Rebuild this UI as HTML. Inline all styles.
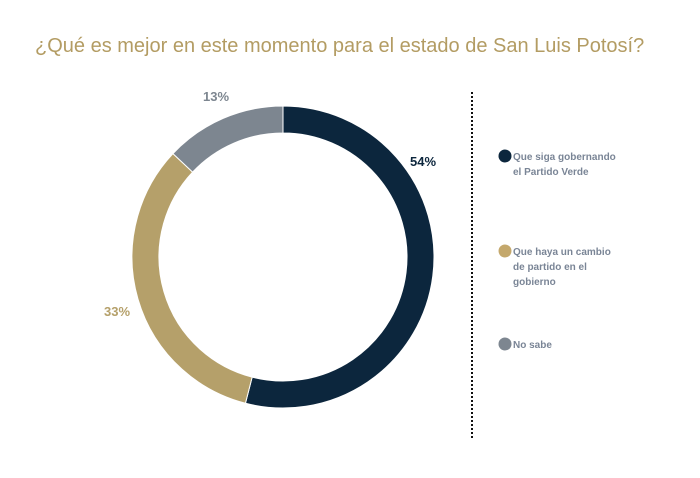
<!DOCTYPE html><html><head><style>body{margin:0;background:#fff;width:700px;height:473px;overflow:hidden;font-family:"Liberation Sans",sans-serif}</style></head><body>
<svg width="700" height="473" xmlns="http://www.w3.org/2000/svg">
<text x="35" y="52" font-size="20" fill="#b39c63" font-family="Liberation Sans,sans-serif">¿Qué es mejor en este momento para el estado de San Luis Potosí?</text>
<path d="M283,106 A151,151 0 1 1 245.45,403.26 L252.16,377.1 A124,124 0 1 0 283,133 Z" fill="#0c263d" stroke="#fff" stroke-width="1"/>
<path d="M245.45,403.26 A151,151 0 0 1 172.92,153.64 L192.6,172.1 A124,124 0 0 0 252.16,377.1 Z" fill="#b5a06a" stroke="#fff" stroke-width="1"/>
<path d="M172.92,153.64 A151,151 0 0 1 283,106 L283,133 A124,124 0 0 0 192.6,172.1 Z" fill="#7d8690" stroke="#fff" stroke-width="1"/>
<g font-size="13" font-weight="bold" font-family="Liberation Sans,sans-serif">
<text x="203" y="101" fill="#7d8690">13%</text>
<text x="410" y="166" fill="#0c263d">54%</text>
<text x="104" y="316" fill="#b5a06a">33%</text>
</g>
<line x1="472" y1="92" x2="472" y2="440" stroke="#111" stroke-width="2" stroke-dasharray="2,2"/>
<g font-size="10" font-weight="bold" fill="#7a8596" font-family="Liberation Sans,sans-serif">
<circle cx="505" cy="156" r="6.5" fill="#0c263d"/>
<text x="513" y="160">Que siga gobernando</text><text x="513" y="175">el Partido Verde</text>
<circle cx="505" cy="251" r="6.5" fill="#c4a86c"/>
<text x="513" y="255">Que haya un cambio</text><text x="513" y="270">de partido en el</text><text x="513" y="285">gobierno</text>
<circle cx="505" cy="344" r="6.5" fill="#7d8690"/>
<text x="513" y="348">No sabe</text>
</g>
</svg></body></html>
